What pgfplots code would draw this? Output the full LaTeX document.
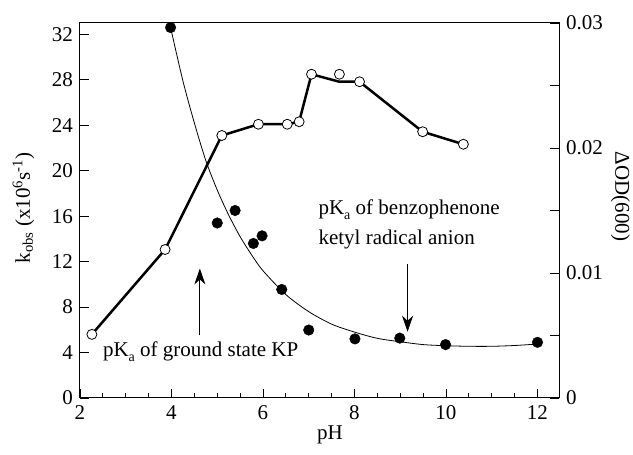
\documentclass[border=0pt]{standalone}
\usepackage{fontspec}
\setmainfont{Liberation Serif}
\usepackage{pgfplots}
\pgfplotsset{compat=1.18}
\usetikzlibrary{arrows.meta}
\newcommand{\pKa}{pK\raisebox{-5pt}{\fontsize{14}{15}\selectfont a}}
\begin{document}
\fontsize{21}{24}\selectfont
\begin{tikzpicture}[x=1pt,y=1pt,font=\fontsize{21}{24}\selectfont]
\begin{axis}[
  at={(0,0)}, anchor=south west,
  scale only axis, width=479pt, height=375pt,
  xmin=2, xmax=12.47, ymin=0, ymax=33,
  xtick={2,4,...,12}, minor x tick num=3,
  ytick={0,4,...,32},
  xtick pos=bottom, ytick pos=left,
  tick align=inside,
  major tick length=9pt, minor tick length=5pt,
  axis line style={line width=1pt},
  every tick/.style={black, line width=0.8pt},
  /pgf/number format/assume math mode=true,
  ticklabel style={font=\fontsize{21}{24}\selectfont},
  label style={font=\fontsize{21}{24}\selectfont},
  xlabel={pH},
  ylabel={k\textsubscript{obs} (x10\textsuperscript{6}s\textsuperscript{-1})},
  xlabel style={at={(axis description cs:0.522,-0.099)}, anchor=center},
  ylabel style={at={(axis description cs:-0.118,0.507)}, anchor=center},
  clip=false,
]
% fitted curve
\addplot[black, line width=0.8pt, smooth] coordinates {
(3.98,32.6) (4.25,27.9) (4.5,24.2) (4.75,20.9) (5.0,18.3) (5.25,16.1)
(5.5,14.2) (5.75,12.6) (6.0,11.2) (6.5,9.1) (7.0,7.6) (7.5,6.5)
(8.0,5.8) (8.5,5.25) (9.0,4.95) (9.5,4.7) (10.0,4.6) (10.5,4.55)
(11.0,4.55) (11.5,4.62) (12.0,4.75)};
% k_obs data
\addplot[only marks, mark=*, mark size=5.3pt, black] coordinates {
(3.98,32.6) (5.00,15.4) (5.39,16.5) (5.79,13.6) (5.98,14.27) (6.41,9.55)
(7.00,5.98) (8.01,5.2) (8.99,5.27) (9.99,4.7) (12.0,4.9)};
% annotations
\draw[line width=1pt, -{Stealth[length=16pt,width=11pt,inset=5pt]}] (axis cs:4.62,5.5) -- (axis cs:4.62,11.4);
\draw[line width=0.7pt, -{Stealth[length=16pt,width=11pt,inset=5pt]}] (axis cs:9.16,11.8) -- (axis cs:9.16,5.83);
\node[anchor=base west, inner sep=0pt] at (axis cs:2.5,3.66) {\pKa\ of ground state KP};
\node[anchor=base west, inner sep=0pt] at (axis cs:7.21,16.15) {\pKa\ of benzophenone};
\node[anchor=base west, inner sep=0pt] at (axis cs:7.21,13.5) {ketyl radical anion};
\end{axis}
\begin{axis}[
  at={(0,0)}, anchor=south west,
  scale only axis, width=479pt, height=375pt,
  xmin=2, xmax=12.47, ymin=0, ymax=0.03,
  axis x line=none, axis y line*=right,
  scaled y ticks=false,
  ytick={0,0.01,0.02,0.03}, yticklabels={0,0.01,0.02,0.03},
  minor ytick={0.005,0.015,0.025},
  tick align=inside,
  major tick length=9pt, minor tick length=9pt,
  axis line style={line width=1pt, -},
  every tick/.style={black, line width=0.8pt},
  ticklabel style={font=\fontsize{21}{24}\selectfont},
  clip=false,
]
% Delta OD(600) data
\addplot[black, line width=2.5pt] coordinates {
(2.26,0.00509) (3.86,0.01188) (5.10,0.0210) (5.90,0.0219) (6.53,0.0219)
(6.79,0.0221) (7.06,0.0259) (7.67,0.0253) (8.11,0.0253) (9.49,0.0213) (10.38,0.0203)};
\addplot[only marks, mark=*, mark size=5pt, mark options={fill=white, draw=black, line width=0.8pt}] coordinates {
(2.26,0.00509) (3.86,0.01188) (5.10,0.0210) (5.90,0.0219) (6.53,0.0219)
(6.79,0.0221) (7.06,0.0259) (7.67,0.0259) (8.11,0.0253) (9.49,0.0213) (10.38,0.0203)};
\node[rotate=-90, inner sep=0pt] at (rel axis cs:1.128,0.537) {ΔOD(600)};
\end{axis}
\pgfresetboundingbox
\useasboundingbox (-80,-57) rectangle (553,398);
\end{tikzpicture}
\end{document}
